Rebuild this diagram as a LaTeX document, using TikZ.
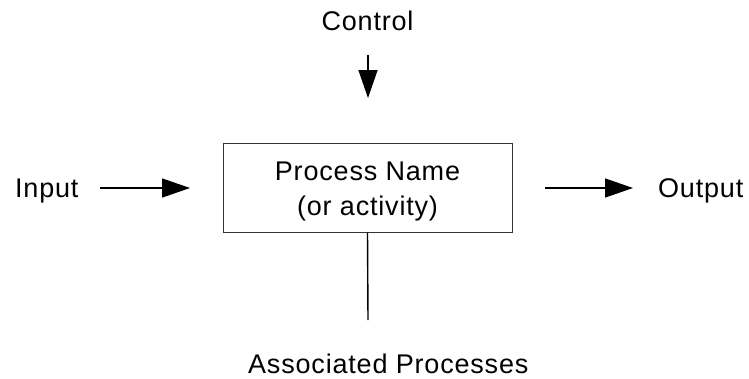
\documentclass[tikz,border=0pt]{standalone}
\usepackage{fontspec}
\setmainfont{Liberation Sans}[LetterSpace=3]
\usetikzlibrary{arrows.meta}
\begin{document}
\begin{tikzpicture}[x=1pt,y=-1pt,
    lbl/.style={inner sep=0pt, font=\fontsize{27}{35}\selectfont},
    flow/.style={line width=1.4pt, -{Triangle[length=28pt,width=19pt]}},
    plain/.style={line width=1.4pt},
    procbox/.style={draw=black!80, line width=1pt, minimum width=289pt, minimum height=89pt, inner sep=0pt}]
  \useasboundingbox (0,0) rectangle (749,378);
  % central process box
  \node[procbox] (proc) at (367.5,187.5) {};
  \node[lbl, anchor=base] (pname) at (367.5,180) {Process Name};
  \node[lbl, anchor=base] (pact) at (367.5,215) {(or activity)};
  % labels around the box
  \node[lbl, anchor=base] (ctrl) at (367.5,30) {Control};
  \node[lbl, anchor=base west] (inp) at (15,197) {Input};
  \node[lbl, anchor=base west] (outp) at (658,197) {Output};
  \node[lbl, anchor=base west] (assoc) at (248,373) {Associated Processes};
  % connector end points
  \coordinate (c1) at (368,55);
  \coordinate (c2) at (368,98);
  \coordinate (i1) at (100,188);
  \coordinate (i2) at (190,188);
  \coordinate (o1) at (545,188);
  \coordinate (o2) at (633,188);
  \coordinate (a2) at (368,320);
  % connectors
  \draw[flow] (c1) -- (c2);
  \draw[flow] (i1) -- (i2);
  \draw[flow] (o1) -- (o2);
  \draw[plain] (proc.south) -- (a2);
\end{tikzpicture}
\end{document}
